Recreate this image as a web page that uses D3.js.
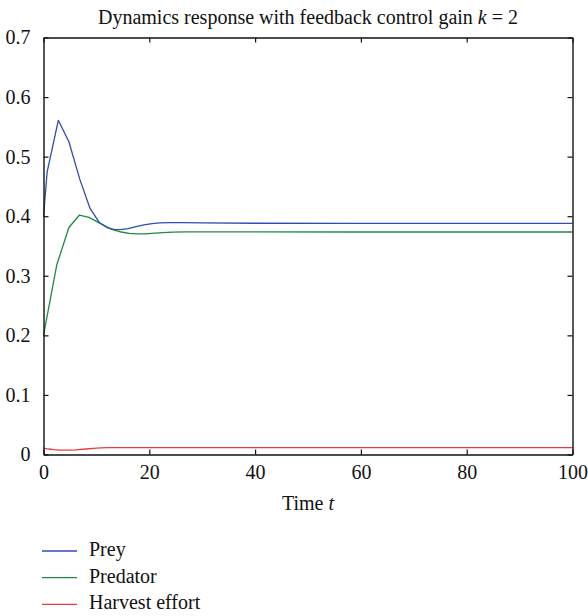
<!DOCTYPE html>
<html>
<head>
<meta charset="utf-8">
<script src="https://cdn.jsdelivr.net/npm/d3@7"></script>
<style>
  html, body { margin: 0; padding: 0; background: #fff; }
  svg { display: block; }
  svg text { font-family: "Liberation Serif", "Times New Roman", "DejaVu Serif", serif; fill: #111; }
</style>
</head>
<body>
<svg id="chart" width="588" height="616"></svg>
<script>
// Time samples and population trajectories (prey, predator) plus harvest effort
const preyT = [0, 0.7, 2.8, 4.8, 6.9, 8.8, 10.6, 12.0, 13.3, 14.5, 16, 17.5, 19, 20.5, 22, 24, 26, 30, 40, 60, 100];
const preyV = [0.400, 0.475, 0.561, 0.525, 0.461, 0.413, 0.389, 0.381, 0.378, 0.3775, 0.379, 0.3825, 0.3855, 0.3875, 0.3888, 0.3892, 0.3892, 0.3888, 0.3882, 0.388, 0.388];

const predT = [0, 2.5, 4.8, 6.8, 8.6, 10.7, 12.9, 14.7, 16.2, 17.6, 19, 20.5, 22.5, 24.5, 27, 30, 40, 60, 100];
const predV = [0.200, 0.318, 0.381, 0.402, 0.398, 0.388, 0.378, 0.3735, 0.3712, 0.3702, 0.3703, 0.3712, 0.3724, 0.3733, 0.3738, 0.3738, 0.3736, 0.3735, 0.3735];

const harvT = [0, 1, 2, 3, 4, 5, 6, 8, 10, 12, 14, 17, 20, 30, 50, 100];
const harvV = [0.0106, 0.0092, 0.0081, 0.0075, 0.0072, 0.0073, 0.0077, 0.0092, 0.0106, 0.0114, 0.0117, 0.0117, 0.0116, 0.0115, 0.0115, 0.0115];

const seriesNames = ["Prey", "Predator", "Harvest effort"];
const seriesColors = ["#2f4eb0", "#1f8a45", "#ec3b3b"];

const xTicks = [0, 20, 40, 60, 80, 100];
const yTicks = [0, 0.1, 0.2, 0.3, 0.4, 0.5, 0.6, 0.7];

const svg = d3.select("#chart");
const W = 588, H = 616;
const margin = { left: 43.5, right: W - 572.5, top: 37.5, bottom: H - 454.5 };
const x = d3.scaleLinear().domain([0, 100]).range([margin.left, W - margin.right]);
const y = d3.scaleLinear().domain([0, 0.7]).range([H - margin.bottom, margin.top]);

const fontSize = 20;
const serif = "Liberation Serif, Times New Roman, DejaVu Serif, serif";
const fmt = d => d === 0 ? "0" : d3.format(".1f")(d);

// Trajectories
const line = d3.line().x(d => x(d[0])).y(d => y(d[1]));
const data = [
  d3.zip(preyT, preyV),
  d3.zip(predT, predV),
  d3.zip(harvT, harvV)
];
// harvest first, prey last so prey sits on top where curves cross
[2, 1, 0].forEach(i => {
  svg.append("path")
    .datum(data[i])
    .attr("d", line)
    .attr("fill", "none")
    .attr("stroke", seriesColors[i])
    .attr("stroke-width", 1.3)
    .attr("stroke-linejoin", "round");
});

// Box axes with inward ticks on all four sides
const tickLen = 5;
svg.append("g")
  .attr("transform", `translate(0,${y(0)})`)
  .call(d3.axisBottom(x).tickValues(xTicks).tickSizeInner(-tickLen).tickSizeOuter(0).tickPadding(10).tickFormat(d3.format("d")));
svg.append("g")
  .attr("transform", `translate(0,${y(0.7)})`)
  .call(d3.axisTop(x).tickValues(xTicks).tickSizeInner(-tickLen).tickSizeOuter(0).tickFormat(""));
svg.append("g")
  .attr("transform", `translate(${x(0)},0)`)
  .call(d3.axisLeft(y).tickValues(yTicks).tickSizeInner(-tickLen).tickSizeOuter(0).tickPadding(13).tickFormat(fmt));
svg.append("g")
  .attr("transform", `translate(${x(100)},0)`)
  .call(d3.axisRight(y).tickValues(yTicks).tickSizeInner(-tickLen).tickSizeOuter(0).tickFormat(""));

svg.selectAll("g").attr("font-family", serif).attr("font-size", fontSize);
svg.selectAll(".domain").attr("stroke", "#111").attr("stroke-width", 1.4);
svg.selectAll(".tick line").attr("stroke", "#111").attr("stroke-width", 1.2);
svg.selectAll(".tick text").attr("fill", "#111");

// Title
const title = svg.append("text")
  .attr("x", (x(0) + x(100)) / 2)
  .attr("y", 24)
  .attr("text-anchor", "middle")
  .attr("font-family", serif)
  .attr("font-size", fontSize);
title.append("tspan").text("Dynamics response with feedback control gain ");
title.append("tspan").attr("font-style", "italic").text("k");
title.append("tspan").text(" = 2");

// X axis label
const xl = svg.append("text")
  .attr("x", (x(0) + x(100)) / 2)
  .attr("y", 510)
  .attr("text-anchor", "middle")
  .attr("font-family", serif)
  .attr("font-size", fontSize);
xl.append("tspan").text("Time ");
xl.append("tspan").attr("font-style", "italic").text("t");

// Legend below the plot
const legend = svg.append("g");
seriesNames.forEach((name, i) => {
  const ly = 551 + i * 26.7;
  legend.append("line")
    .attr("x1", 42).attr("x2", 77)
    .attr("y1", ly).attr("y2", ly)
    .attr("stroke", seriesColors[i])
    .attr("stroke-width", 1.3);
  legend.append("text")
    .attr("x", 89)
    .attr("y", ly + 5)
    .attr("font-family", serif)
    .attr("font-size", fontSize)
    .text(name);
});
</script>
</body>
</html>
